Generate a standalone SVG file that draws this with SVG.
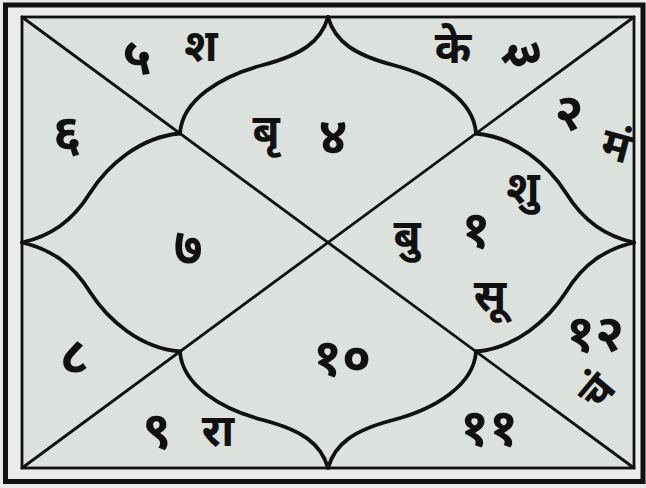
<svg xmlns="http://www.w3.org/2000/svg" width="646" height="488" viewBox="0 0 646 488">
<style>
.ln{fill:none;stroke:#111;stroke-linecap:round;stroke-linejoin:round}
.dg{stroke-width:2.8}
.cv{stroke-width:3.8}
.t{font-family:"Noto Sans Devanagari","Noto Sans","DejaVu Sans",sans-serif;font-size:44px;font-weight:bold;fill:#111;text-anchor:middle;dominant-baseline:central}
.n{font-size:52px}
</style>
<rect x="0" y="0" width="646" height="488" fill="#e7eae7"/>
<rect x="5.5" y="5" width="637.5" height="476.5" fill="#e9ece9" stroke="#111" stroke-width="5"/>
<rect x="22" y="17" width="612" height="451" fill="#dde1dd" stroke="#111" stroke-width="2.8"/>
<g id="connectors">
<path class="ln dg" d="M22,17 L634,468"/>
<path class="ln dg" d="M634,17 L22,468"/>
<path class="ln cv" d="M328,17 C321,42 301,55 263,65 C221,76 182,100 180,133.5"/>
<path class="ln cv" d="M328,17 C335,42 355,55 393,65 C435,76 474,100 476,133.5"/>
<path class="ln cv" d="M22,242.5 C50,236 72,222 90,193 C108,165 140,137 180,133.5"/>
<path class="ln cv" d="M634,242.5 C606,236 584,222 566,193 C548,165 516,137 476,133.5"/>
<path class="ln cv" d="M328,468 C321,443 301,430 263,420 C221,409 182,385 180,351.5"/>
<path class="ln cv" d="M328,468 C335,443 355,430 393,420 C435,409 474,385 476,351.5"/>
<path class="ln cv" d="M22,242.5 C50,249 72,263 90,292 C108,320 140,348 180,351.5"/>
<path class="ln cv" d="M634,242.5 C606,249 584,263 566,292 C548,320 516,348 476,351.5"/>
</g>
<g id="house1"><text class="t" x="407" y="240">बु</text><text class="t n" x="476" y="234">१</text><text class="t" x="523" y="192">शु</text><text class="t" x="490" y="300">सू</text></g>
<g id="house2"><text class="t n" x="569" y="117">२</text><text class="t" x="615" y="150" transform="rotate(15 615 150)">मं</text></g>
<g id="house3"><text class="t" x="453" y="52">के</text><text class="t n" x="520" y="55" transform="rotate(80 520 55)">३</text></g>
<g id="house4"><text class="t" x="266" y="135">बृ</text><text class="t n" x="333" y="141">४</text></g>
<g id="house5"><text class="t n" x="137" y="62">५</text><text class="t" x="201" y="50">श</text></g>
<g id="house6"><text class="t n" x="67" y="138">६</text></g>
<g id="house7"><text class="t n" x="188" y="252">७</text></g>
<g id="house8"><text class="t n" x="74" y="360">८</text></g>
<g id="house9"><text class="t n" x="157" y="435">९</text><text class="t" x="218" y="435">रा</text></g>
<g id="house10"><text class="t n" x="342" y="362">१०</text></g>
<g id="house11"><text class="t n" x="489" y="432">११</text></g>
<g id="house12"><text class="t n" x="595" y="338">१२</text><text class="t" x="600" y="394" font-size="46" transform="rotate(-50 600 394)">चं</text></g>
</svg>
